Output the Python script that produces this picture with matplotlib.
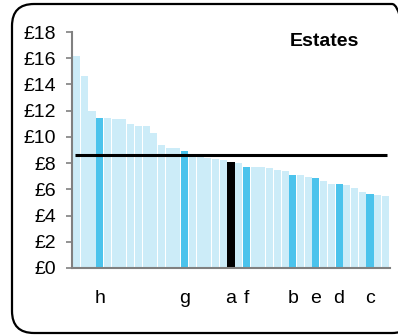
import matplotlib
matplotlib.use("Agg")
import matplotlib.pyplot as plt
from matplotlib.patches import FancyBboxPatch
from matplotlib.transforms import IdentityTransform

plt.rcParams['font.family'] = ['Liberation Sans', 'DejaVu Sans']

values = [16.2, 14.65, 12.0, 11.46, 11.46, 11.39, 11.39, 11.0, 10.85, 10.85,
          10.32, 9.4, 9.17, 9.17, 8.94, 8.52, 8.47, 8.39, 8.34, 8.26,
          8.11, 8.03, 7.73, 7.73, 7.73, 7.65, 7.5, 7.42, 7.12, 7.12,
          6.96, 6.89, 6.66, 6.43, 6.43, 6.35, 6.12, 5.82, 5.67, 5.59, 5.51]
highlight_idx = [3, 14, 22, 28, 31, 34, 38]
black_idx = [20]
label_idx = [3, 14, 20, 22, 28, 31, 34, 38]
label_text = ['h', 'g', 'a', 'f', 'b', 'e', 'd', 'c']
average = 8.63
yticks = [0, 2, 4, 6, 8, 10, 12, 14, 16, 18]
title = "Estates"

light = '#CCECF8'
mid = '#4BC3EC'

W, H = 398, 336
fig = plt.figure(figsize=(W/100, H/100), dpi=100)
ax = fig.add_axes([72/W, (H-268)/H, (390-72)/W, (268-32)/H])

colors = []
for i in range(len(values)):
    if i in black_idx:
        colors.append('black')
    elif i in highlight_idx:
        colors.append(mid)
    else:
        colors.append(light)
ax.bar(range(len(values)), values, width=0.92, color=colors, linewidth=0)
ax.hlines(average, -0.2, len(values) - 0.8, color='black', linewidth=2.2, zorder=5)

ax.set_xlim(-0.59, len(values) - 0.41)
ax.set_ylim(0, 18)
ax.set_yticks(yticks)
ax.set_yticklabels([f'£{v}' for v in yticks], fontsize=14)
ax.set_xticks(label_idx)
ax.set_xticklabels(label_text, fontsize=14)
ax.tick_params(axis='x', length=0, pad=16)
ax.tick_params(axis='y', length=4.3, width=1.2, color='#808080', pad=7)
for s in ['top', 'right']:
    ax.spines[s].set_visible(False)
for s in ['left', 'bottom']:
    ax.spines[s].set_color('#808080')
    ax.spines[s].set_linewidth(1.5)

fig.text(324/W, (H-41)/H, title, fontsize=14, fontweight='bold', ha='center', va='center')

box = FancyBboxPatch((12, 3), 402, 329, boxstyle="round,pad=0,rounding_size=22",
                     transform=IdentityTransform(), fill=False, edgecolor='black',
                     linewidth=1.6)
fig.patches.append(box)

fig.savefig('out.png', dpi=100)
